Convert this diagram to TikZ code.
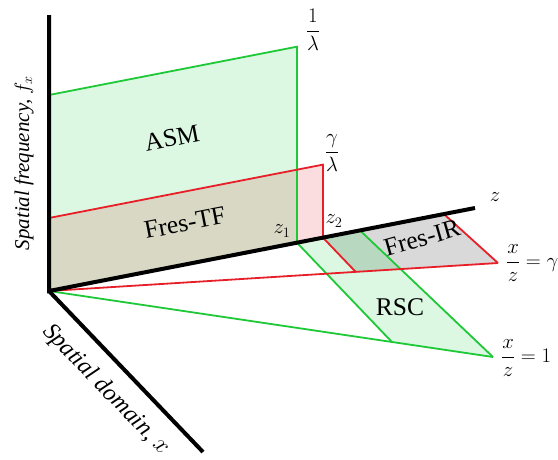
\documentclass[tikz,border=0pt]{standalone}
\usepackage{amsmath}
\usepackage{fontspec}
\setmainfont{Liberation Serif}
\usepackage{tikz}
\usetikzlibrary{calc}

\definecolor{linegreen}{RGB}{30,200,55}
\definecolor{linered}{RGB}{232,30,40}
\definecolor{asmfill}{RGB}{220,247,226}
\definecolor{tffill}{RGB}{216,216,196}
\definecolor{pinkfill}{RGB}{251,221,223}
\definecolor{irfill}{RGB}{217,217,217}
\definecolor{overlapfill}{RGB}{184,217,191}

\begin{document}
\begin{tikzpicture}[x=1pt, y=-1pt, font=\fontsize{22}{26}\selectfont,
  axis/.style={line width=4pt},
  gline/.style={draw=linegreen, line width=1.8pt},
  rline/.style={draw=linered, line width=1.8pt},
  region/.style={font=\fontsize{25.5}{30}\selectfont}]
  \useasboundingbox (0,0) rectangle (558,459);

  % axes and points on the z axis
  \coordinate (O) at (49,291);
  \coordinate (fTop) at (49,15);
  \coordinate (zEnd) at (475,208);
  \coordinate (xEnd) at (203,452);
  \coordinate (z1) at ($(O)!0.582!(zEnd)$);
  \coordinate (z2) at ($(O)!0.643!(zEnd)$);
  \coordinate (zR) at ($(O)!0.730!(zEnd)$);
  \coordinate (zF) at ($(O)!0.927!(zEnd)$);

  % vertical planes
  \coordinate (A1) at ($(O)+(0,-196)$);
  \coordinate (A2) at ($(z1)+(0,-196)$);
  \coordinate (T1) at ($(O)+(0,-73)$);
  \coordinate (T2) at ($(z2)+(0,-73)$);
  \coordinate (p) at (intersection of T1--T2 and z1--A2);

  % horizontal planes
  \coordinate (gEnd) at (498,263);
  \coordinate (rEnd) at (493,357);
  \coordinate (g1) at (intersection of z2--{$(z2)+(154,161)$} and O--gEnd);
  \coordinate (r1) at (intersection of z1--{$(z1)+(154,161)$} and O--rEnd);
  \coordinate (q) at (intersection of zR--rEnd and O--gEnd);

  \fill[asmfill] (O) -- (A1) -- (A2) -- (z1) -- cycle;
  \fill[tffill] (O) -- (T1) -- (p) -- (z1) -- cycle;
  \fill[pinkfill] (z1) -- (p) -- (T2) -- (z2) -- cycle;
  \fill[asmfill] (z1) -- (zR) -- (rEnd) -- (r1) -- cycle;
  \fill[irfill] (z2) -- (zF) -- (gEnd) -- (g1) -- cycle;
  \fill[overlapfill] (z2) -- (zR) -- (q) -- (g1) -- cycle;

  \draw[gline] (A1) -- (A2) -- (z1) -- (r1);
  \draw[gline] (O) -- (rEnd);
  \draw[gline] (zR) -- (rEnd);
  \draw[rline] (T1) -- (T2) -- (z2) -- (g1);
  \draw[rline] (O) -- (gEnd);
  \draw[rline] (zF) -- (gEnd);

  \draw[axis] (fTop) -- (O) -- (zEnd);
  \draw[axis] (O) -- (xEnd);

  % labels
  \node[rotate=90, font=\fontsize{21}{25}\selectfont\itshape] (fLabel) at (24,163) {Spatial frequency, $f_x$};
  \node[rotate=-46, font=\fontsize{24}{28}\selectfont\itshape] (xLabel) at (106,390) {Spatial domain, $x$};
  \node (zLabel) at (495,197) {$z$};
  \node (z1Label) at (282,231) {$z_1$};
  \node (z2Label) at (334,221) {$z_2$};
  \node (lamOne) at (313,30) {$\dfrac{1}{\lambda}$};
  \node (lamGam) at (332,153) {$\dfrac{\gamma}{\lambda}$};
  \node[anchor=west, inner sep=0pt] (gamLabel) at (506,263) {$\dfrac{x}{z}=\gamma$};
  \node[anchor=west, inner sep=0pt] (oneLabel) at (501,358) {$\dfrac{x}{z}=1$};
  \node[region, rotate=11] (asmLabel) at (172,138) {ASM};
  \node[region, rotate=11] (tfLabel) at (185,223) {Fres-TF};
  \node[region, rotate=16] (irLabel) at (422,238) {Fres-IR};
  \node[region] (rscLabel) at (400,307) {RSC};
\end{tikzpicture}
\end{document}
